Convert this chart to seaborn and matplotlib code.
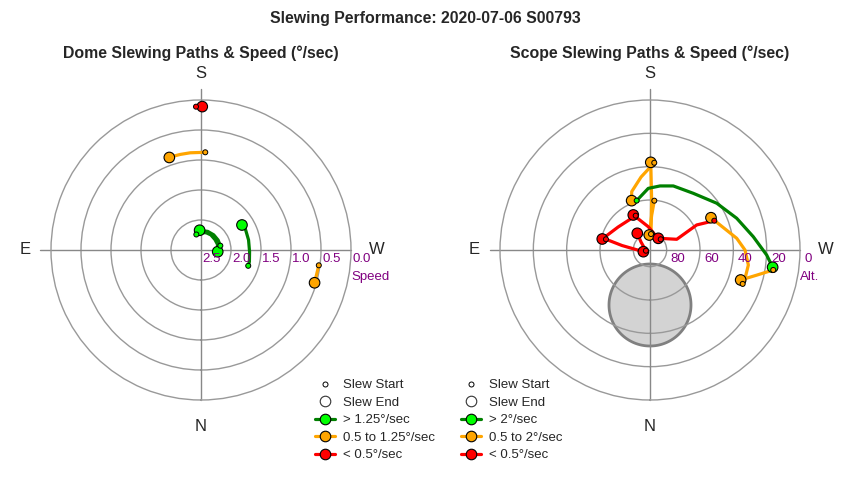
import numpy as np
import pandas as pd
import seaborn as sns
import matplotlib.pyplot as plt
from matplotlib.lines import Line2D
from matplotlib.legend_handler import HandlerLine2D

# dome slews: azimuth (deg) and speed (deg/sec) along each path, start point first
dome_az = [
    [178.0, 180.5],
    [182.5, 173.7, 167.7, 163.7, 161.1],
    [163.3, 180.0, 197.0, 213.0, 233.0, 250.0, 265.0, 275.8],
    [257.4, 240.0, 220.0, 200.0, 176.0],
    [288.5, 283.6, 272.0, 258.1, 243.9, 238.6],
    [277.4, 286.1],
]
dome_speed = [
    [0.11, 0.11],
    [0.87, 0.87, 0.87, 0.87, 0.87],
    [2.23, 2.21, 2.20, 2.20, 2.21, 2.21, 2.22, 2.22],
    [2.17, 2.17, 2.17, 2.17, 2.17],
    [1.67, 1.67, 1.69, 1.69, 1.68, 1.70],
    [0.52, 0.53],
]
dome_class = ["slow", "mid", "fast", "fast", "fast", "mid"]

# scope slews: azimuth and altitude (deg) along each path, start point first
scope_az = [
    [185.0, 182.8, 177.3],
    [183.6, 181.9, 180.5],
    [182.8, 173.0, 162.6, 159.6],
    [164.9, 178.4, 188.9, 200.0, 217.4, 235.0, 249.9, 262.7, 272.5, 278.0],
    [279.2, 283.2, 288.3],
    [290.1, 286.6, 278.7, 270.0, 262.3, 242.1],
    [245.5, 241.8, 248.2, 220.5, 215.4],
    [225.0, 206.7, 175.8, 154.5],
    [157.4, 125.7, 103.0],
    [103.7, 99.1, 75.8],
    [80.1, 131.6, 142.7],
]
scope_alt = [
    [60.3, 69.0, 81.0],
    [80.4, 60.0, 37.4],
    [37.6, 45.9, 53.3, 58.4],
    [59.3, 53.0, 51.1, 49.1, 47.2, 41.1, 34.6, 27.5, 19.9, 15.7],
    [15.1, 24.1, 32.7],
    [30.8, 30.5, 30.3, 33.0, 37.5, 48.6],
    [47.6, 58.2, 72.7, 80.8, 81.4],
    [80.9, 81.1, 76.0, 66.7],
    [67.7, 66.4, 60.6],
    [62.8, 73.0, 85.9],
    [87.5, 82.8, 77.4],
]
scope_class = ["mid", "mid", "mid", "fast", "mid", "mid", "slow", "slow", "slow", "slow", "slow"]

# grey avoidance zone on the scope chart
zone_az = 0.0
zone_alt = 57.0
zone_size = 24.6

speed_ticks = [2.5, 2.0, 1.5, 1.0, 0.5, 0.0]
alt_ticks = [80, 60, 40, 20, 0]
dome_legend = ["> 1.25°/sec", "0.5 to 1.25°/sec", "< 0.5°/sec"]
scope_legend = ["> 2°/sec", "0.5 to 2°/sec", "< 0.5°/sec"]

line_colors = {"fast": "green", "mid": "orange", "slow": "red"}
dot_colors = {"fast": "lime", "mid": "orange", "slow": "red"}
ring_gray = "#999999"


def slew_frame(az_list, val_list, classes, to_r):
    rows = []
    for i, (azs, vals) in enumerate(zip(az_list, val_list)):
        for j, (a, v) in enumerate(zip(azs, vals)):
            rows.append({"slew": i, "step": j, "theta": np.deg2rad(a),
                         "r": to_r(v), "cls": classes[i],
                         "last": j == len(azs) - 1})
    return pd.DataFrame(rows)


def setup_polar(ax, rmax, rings):
    ax.set_theta_zero_location("S")
    ax.set_theta_direction(-1)
    ax.set_thetalim(0, 2 * np.pi)
    ax.set_ylim(0, rmax)
    ax.set_rticks(rings)
    ax.set_yticklabels([])
    ax.set_xticks([])
    ax.yaxis.grid(True, color=ring_gray, lw=1)
    ax.xaxis.grid(False)
    ax.spines["polar"].set_color(ring_gray)
    ax.spines["polar"].set_linewidth(1)
    ax.set_xlabel("")
    ax.set_ylabel("")
    # spokes, a little longer on the E and S side
    for deg, ext in [(0, 1.0), (90, 1.07), (180, 1.07), (270, 1.0)]:
        ax.plot([np.deg2rad(deg)] * 2, [0, rmax * ext], color="#888888",
                lw=1, clip_on=False, zorder=0.6)
    for deg, lab in [(0, "N"), (90, "E"), (180, "S"), (270, "W")]:
        ax.text(np.deg2rad(deg), rmax * 1.175, lab, ha="center", va="center",
                fontsize=12, clip_on=False)


def draw_slews(ax, df):
    sns.lineplot(data=df, x="theta", y="r", hue="cls", units="slew",
                 estimator=None, sort=False, palette=line_colors, lw=2.3,
                 legend=False, ax=ax, zorder=2)
    ends = df[df["last"]]
    starts = df[df["step"] == 0]
    sns.scatterplot(data=ends, x="theta", y="r", hue="cls", palette=dot_colors,
                    s=58, edgecolor="black", linewidth=0.8, legend=False,
                    ax=ax, zorder=3)
    sns.scatterplot(data=starts, x="theta", y="r", hue="cls", palette=dot_colors,
                    s=13, edgecolor="black", linewidth=0.7, legend=False,
                    ax=ax, zorder=4)
    ax.set_xlabel("")
    ax.set_ylabel("")


class MarkerLeftHandler(HandlerLine2D):
    def get_xdata(self, legend, xdescent, ydescent, width, height, fontsize):
        return [-xdescent, -xdescent + width], [-xdescent + 0.25 * width]


def add_legend(fig, x0, labels):
    handles = [
        Line2D([], [], ls="none", marker="o", ms=3.6, mfc="white", mec="black", mew=0.7),
        Line2D([], [], ls="none", marker="o", ms=7.6, mfc="white", mec="#333333", mew=0.8),
    ]
    for key in ["fast", "mid", "slow"]:
        handles.append(Line2D([], [], color=line_colors[key], lw=2.3, marker="o",
                              ms=7.6, mfc=dot_colors[key], mec="black", mew=0.8))
    fig.legend(handles, ["Slew Start", "Slew End"] + labels,
               handler_map={Line2D: MarkerLeftHandler(numpoints=1)},
               loc="upper left", bbox_to_anchor=(x0 / 850, 1 - 379 / 480),
               frameon=False, borderpad=0, borderaxespad=0, handlelength=1.5,
               handletextpad=0.6, labelspacing=0.4, fontsize=9.5)


sns.set_theme(style="white")
plt.rcParams["font.family"] = ["Liberation Sans", "DejaVu Sans"]

fig = plt.figure(figsize=(8.5, 4.8), dpi=100)
ax1 = fig.add_axes([51 / 850, 80 / 480, 300 / 850, 300 / 480], projection="polar")
ax2 = fig.add_axes([500 / 850, 80 / 480, 300 / 850, 300 / 480], projection="polar")

# dome: radius grows as speed falls
dome_df = slew_frame(dome_az, dome_speed, dome_class, lambda v: 2.5 - v)
draw_slews(ax1, dome_df)
setup_polar(ax1, 2.5, [0.5, 1.0, 1.5, 2.0])
for v in speed_ticks:
    ax1.annotate(f"{v:.1f}", (np.deg2rad(270), 2.5 - v), xytext=(1, -2),
                 textcoords="offset points", ha="left", va="top",
                 color="purple", fontsize=9.5, annotation_clip=False)
ax1.annotate("Speed", (np.deg2rad(270), 2.5), xytext=(0, -15),
             textcoords="offset points", ha="left", va="top",
             color="purple", fontsize=9.5, annotation_clip=False)

# scope: radius is zenith distance
scope_df = slew_frame(scope_az, scope_alt, scope_class, lambda a: 90 - a)
zc = 90 - zone_alt
phi = np.linspace(0, 2 * np.pi, 200)
zx = -zc * np.sin(np.deg2rad(zone_az)) + zone_size * np.cos(phi)
zy = -zc * np.cos(np.deg2rad(zone_az)) + zone_size * np.sin(phi)
ax2.fill(np.arctan2(-zx, -zy), np.hypot(zx, zy), facecolor="#d3d3d3",
         edgecolor="#808080", lw=2, zorder=0.3)
draw_slews(ax2, scope_df)
setup_polar(ax2, 90, [10, 30, 50, 70])
for a in alt_ticks:
    ax2.annotate(f"{a}", (np.deg2rad(270), 90 - a), xytext=(3, -2),
                 textcoords="offset points", ha="left", va="top",
                 color="purple", fontsize=9.5, annotation_clip=False)
ax2.annotate("Alt.", (np.deg2rad(270), 90), xytext=(0, -15),
             textcoords="offset points", ha="left", va="top",
             color="purple", fontsize=9.5, annotation_clip=False)

add_legend(fig, 315, dome_legend)
add_legend(fig, 461, scope_legend)

fig.text(425 / 850, 1 - 18 / 480, "Slewing Performance: 2020-07-06 S00793",
         ha="center", va="center", fontsize=11.4, fontweight="bold")
fig.text(201 / 850, 1 - 53 / 480, "Dome Slewing Paths & Speed (°/sec)",
         ha="center", va="center", fontsize=11.4, fontweight="bold")
fig.text(650 / 850, 1 - 53 / 480, "Scope Slewing Paths & Speed (°/sec)",
         ha="center", va="center", fontsize=11.4, fontweight="bold")

fig.savefig("out.png", dpi=100)
